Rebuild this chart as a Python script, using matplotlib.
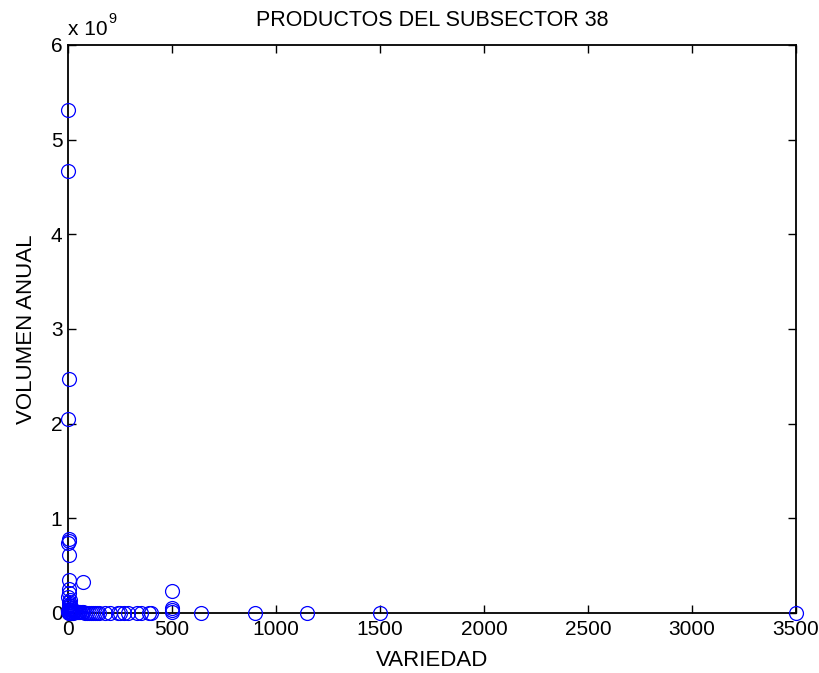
import numpy as np
import matplotlib
matplotlib.use('Agg')
import matplotlib.pyplot as plt

# variedad (x) vs volumen anual (y)
variedad = [2, 1, 3, 2, 4, 3, 2, 5, 4, 72, 3, 6, 2, 8, 4, 10, 5, 12, 3, 15,
            6, 20, 8, 25, 30, 35, 40, 45, 50, 55, 60, 65, 70, 80, 90, 100,
            110, 120, 130, 140, 150, 180, 200, 240, 250, 270, 290, 330, 350,
            390, 400, 500, 500, 500, 500, 640, 900, 1150, 1500, 3500,
            1, 2, 3, 5, 7, 9, 11, 14, 18, 22]
volumen = [5.31e9, 4.67e9, 2.47e9, 2.05e9, 0.78e9, 0.76e9, 0.74e9, 0.61e9,
           0.35e9, 0.33e9, 0.25e9, 0.21e9, 0.17e9, 0.14e9, 0.12e9, 0.10e9,
           0.08e9, 0.07e9, 0.06e9, 0.05e9, 0.04e9, 0.035e9, 0.03e9, 0.025e9,
           0.02e9, 0.018e9, 0.015e9, 0.012e9, 0.01e9, 0.01e9, 0.008e9,
           0.007e9, 0.006e9, 0.005e9, 0.005e9, 0.004e9, 0.004e9, 0.003e9,
           0.003e9, 0.003e9, 0.002e9, 0.002e9, 0.002e9, 0.002e9, 0.002e9,
           0.002e9, 0.002e9, 0.002e9, 0.002e9, 0.002e9, 0.002e9, 0.23e9,
           0.05e9, 0.03e9, 0.01e9, 0.002e9, 0.001e9, 0.001e9, 0.001e9,
           0.001e9, 0.02e9, 0.01e9, 0.005e9, 0.003e9, 0.015e9, 0.008e9,
           0.004e9, 0.006e9, 0.003e9, 0.002e9]

fnt = 'Liberation Sans'
fs = 15

fig = plt.figure(figsize=(8.19, 6.73), dpi=100)
ax = fig.add_axes([68/819, 1-613/673, (796-68)/819, (613-45)/673])

ax.plot(variedad, volumen, 'o', mfc='none', mec='#0000ff', ms=10, mew=0.9,
        clip_on=False, zorder=3)

ax.set_xlim(0, 3500)
ax.set_ylim(0, 6e9)
ax.set_xticks(np.arange(0, 3501, 500))
ax.set_yticks(np.arange(0, 6.1e9, 1e9))
ax.set_yticklabels([str(i) for i in range(7)])
ax.tick_params(direction='in', top=True, right=True, labelsize=fs, length=6,
               width=1.0)
ax.tick_params(axis='x', pad=5)
ax.tick_params(axis='y', pad=4)
for sp in ax.spines.values():
    sp.set_linewidth(1.3)
ax.text(0, 1.01, 'x 10', transform=ax.transAxes, fontsize=fs,
        va='bottom', ha='left', family=fnt)
ax.text(0.056, 1.033, '9', transform=ax.transAxes, fontsize=10.5,
        va='bottom', ha='left', family=fnt)

for lab in ax.get_xticklabels() + ax.get_yticklabels():
    lab.set_family(fnt)

ax.set_title('PRODUCTOS DEL SUBSECTOR 38', fontsize=15.5, family=fnt, pad=14)
ax.set_xlabel('VARIEDAD', fontsize=16, family=fnt, labelpad=8)
ax.set_ylabel('VOLUMEN ANUAL', fontsize=16, family=fnt, labelpad=10)

fig.savefig('out.png', dpi=100)
